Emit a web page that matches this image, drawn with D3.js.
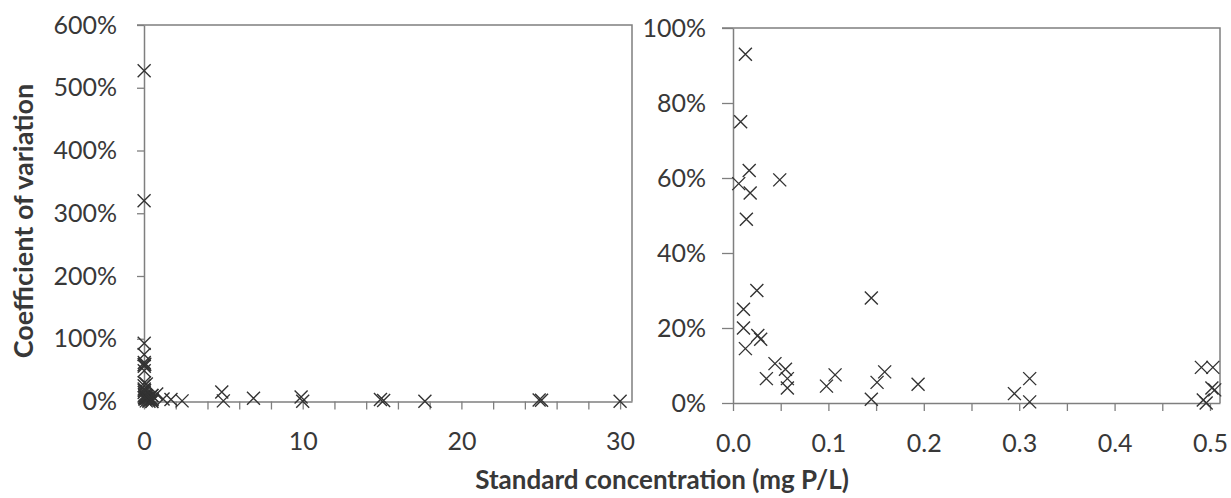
<!DOCTYPE html>
<html>
<head>
<meta charset="utf-8">
<script src="https://cdn.jsdelivr.net/npm/d3@7"></script>
<style>
  html, body { margin: 0; padding: 0; background: #fff; }
  svg { display: block; }
  text { font-family: Lato, "Open Sans", sans-serif; fill: #383838; }
</style>
</head>
<body>
<svg id="chart" width="1231" height="498"></svg>
<script>
// Standard concentration (mg P/L) and coefficient of variation (%) of each standard
const concentration = [
  0.006, 0.008, 0.011, 0.011, 0.013, 0.013, 0.014, 0.017, 0.018, 0.025,
  0.026, 0.029, 0.035, 0.044, 0.049, 0.055, 0.057, 0.057, 0.098, 0.107,
  0.145, 0.145, 0.151, 0.159, 0.194, 0.295, 0.311, 0.311, 0.491, 0.503,
  0.502, 0.505, 0.493, 0.496,
  0.010, 0.005, 0.8, 1.2, 1.7, 2.4, 4.9, 5.0, 6.9, 9.9, 10.0,
  14.9, 15.1, 17.7, 24.9, 25.05, 30.0
];
const cv = [
  58.5, 75, 25, 20, 93, 14.5, 49, 62, 56, 30,
  18, 17, 6.5, 10.5, 59.5, 9, 6.5, 4, 4.5, 7.5,
  28, 1, 5.5, 8.3, 5, 2.5, 6.5, 0.3, 9.5, 9.5,
  4, 3.5, 0.8, 0,
  527, 320, 12, 4, 3, 1, 15, 1, 5, 7, 0.5,
  3, 1.5, 0.5, 2.5, 2, 0.3
];

// Axis ticks
const leftXTicks = [0, 2, 4, 6, 8, 10, 12, 14, 16, 18, 20, 22, 24, 26, 28, 30];
const leftXLabels = [0, 10, 20, 30];
const leftYTicks = [0, 100, 200, 300, 400, 500, 600];
const rightXTicks = [0, 0.05, 0.1, 0.15, 0.2, 0.25, 0.3, 0.35, 0.4, 0.45, 0.5];
const rightXLabels = [0, 0.1, 0.2, 0.3, 0.4, 0.5];
const rightYTicks = [0, 20, 40, 60, 80, 100];

const points = concentration.map((c, i) => ({ x: c, y: cv[i] }));

const svg = d3.select("#chart");
const axisColor = "#7f7f7f";
const markColor = "#333";

function panel(opts) {
  const { x, y, xTicks, xLabels, yTicks, yTickSize, yPad, xFmt } = opts;
  const g = svg.append("g");
  const [x0, x1] = x.range();
  const [y0, y1] = y.range();

  // Frame: top and right edges of the plot area
  g.append("path")
    .attr("d", `M${x0 - yTickSize},${y1}H${x1}V${y0}`)
    .attr("fill", "none").attr("stroke", axisColor).attr("stroke-width", 1.5);

  // Y axis
  const ya = g.append("g").attr("transform", `translate(${x0},0)`)
    .call(d3.axisLeft(y).tickValues(yTicks).tickSize(yTickSize).tickSizeOuter(0)
      .tickPadding(yPad).tickFormat(d => d + "%"));
  // X axis
  const xa = g.append("g").attr("transform", `translate(0,${y0})`)
    .call(d3.axisBottom(x).tickValues(xTicks).tickSize(8).tickSizeOuter(0)
      .tickPadding(23)
      .tickFormat(d => xLabels.some(v => Math.abs(v - d) < 1e-9) ? xFmt(d) : ""));

  [ya, xa].forEach(a => {
    a.select(".domain").attr("stroke", axisColor).attr("stroke-width", 1.5);
    a.selectAll(".tick line").attr("stroke", axisColor).attr("stroke-width", 1.3);
    a.selectAll(".tick text").style("font-size", "25px").attr("fill", "#383838");
  });

  const xmax = x.domain()[1], ymax = y.domain()[1];
  const s = 6.5;
  g.append("g").selectAll("path")
    .data(points.filter(p => p.x <= xmax && p.y <= ymax))
    .join("path")
    .attr("transform", p => `translate(${x(p.x)},${y(p.y)})`)
    .attr("d", `M${-s},${-s}L${s},${s}M${-s},${s}L${s},${-s}`)
    .attr("fill", "none").attr("stroke", markColor).attr("stroke-width", 1.4);
}

// Full concentration range
panel({
  x: d3.scaleLinear([0, 30.75], [144, 632]),
  y: d3.scaleLinear([0, 600], [401.5, 25]),
  xTicks: leftXTicks, xLabels: leftXLabels, yTicks: leftYTicks,
  yTickSize: 7, yPad: 20, xFmt: d3.format("d")
});

// Low concentration range
panel({
  x: d3.scaleLinear([0, 0.5105], [733, 1220]),
  y: d3.scaleLinear([0, 100], [403, 28]),
  xTicks: rightXTicks, xLabels: rightXLabels, yTicks: rightYTicks,
  yTickSize: 11, yPad: 16, xFmt: d3.format(".1f")
});

// Axis titles
svg.append("text")
  .attr("transform", "translate(33,221) rotate(-90)")
  .attr("text-anchor", "middle")
  .style("font-size", "27px").style("font-weight", "bold")
  .text("Coefficient of variation");

svg.append("text")
  .attr("x", 662).attr("y", 489)
  .attr("text-anchor", "middle")
  .style("font-size", "26px").style("font-weight", "bold")
  .text("Standard concentration (mg P/L)");
</script>
</body>
</html>
